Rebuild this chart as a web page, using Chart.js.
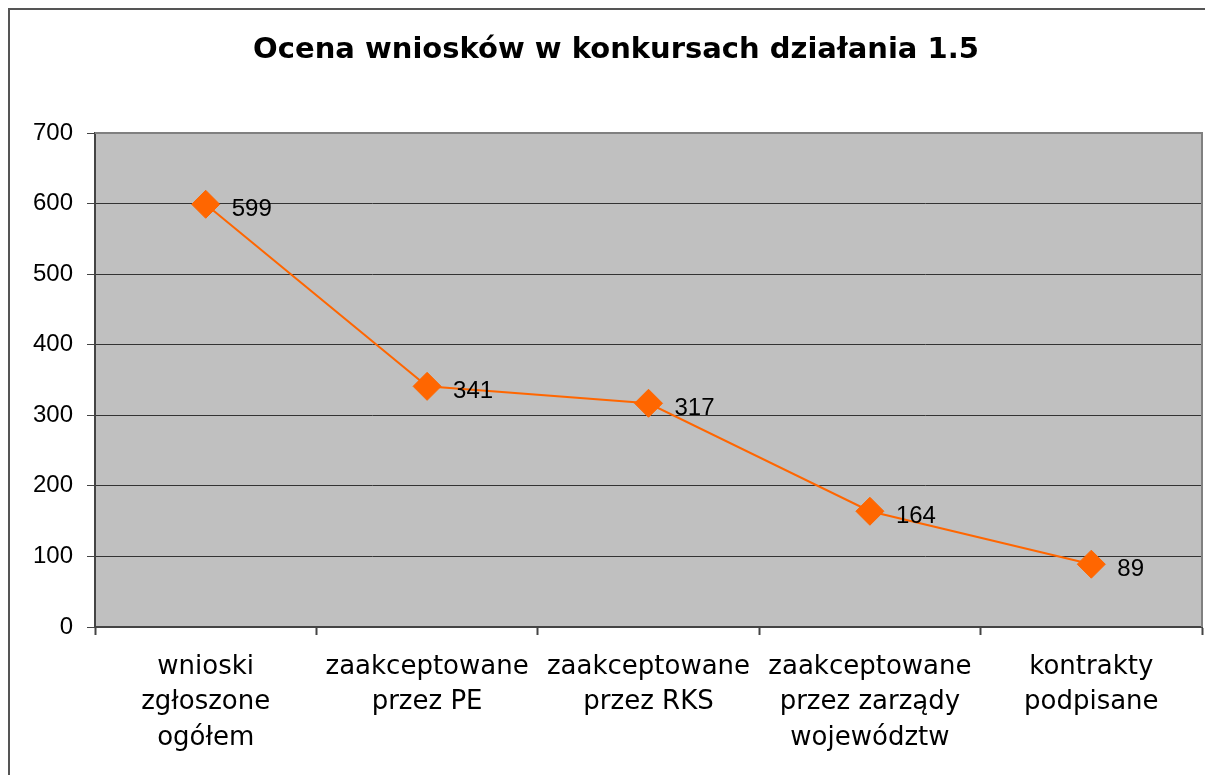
<!DOCTYPE html>
<html>
<head>
<meta charset="utf-8">
<script src="https://cdn.jsdelivr.net/npm/chart.js@4/dist/chart.umd.min.js"></script>
<style>
  html, body { margin: 0; padding: 0; background: #fff; overflow: hidden; }
  canvas { display: block; }
</style>
</head>
<body>
<canvas id="chart" width="1205" height="775"></canvas>
<script>
// Categories (x axis, multi-line)
const categories = [
    ['wnioski', 'zgłoszone', 'ogółem'],
    ['zaakceptowane', 'przez PE'],
    ['zaakceptowane', 'przez RKS'],
    ['zaakceptowane', 'przez zarządy', 'województw'],
    ['kontrakty', 'podpisane']
];

// Series values
const values = [599, 341, 317, 164, 89];

// Y axis range
const yMin = 0;
const yMax = 700;
const yStep = 100;

const titleText = 'Ocena wniosków w konkursach działania 1.5';
const orange = '#ff6600';

// Frame, grey plot area, title and value labels
const backdrop = {
    id: 'backdrop',
    beforeDraw(chart) {
        const ctx = chart.ctx;
        const a = chart.chartArea;
        ctx.save();
        ctx.fillStyle = '#fff';
        ctx.fillRect(0, 0, chart.width, chart.height);
        ctx.strokeStyle = '#555';
        ctx.lineWidth = 2;
        ctx.strokeRect(9, 9, chart.width + 20, chart.height + 20);
        ctx.fillStyle = '#c0c0c0';
        ctx.fillRect(a.left, a.top, a.right - a.left, a.bottom - a.top);
        // title
        ctx.fillStyle = '#000';
        ctx.font = 'bold 29px "DejaVu Sans", Verdana, sans-serif';
        ctx.textAlign = 'center';
        ctx.textBaseline = 'middle';
        ctx.fillText(titleText, 616, 50);
        ctx.restore();
    },
    afterDatasetsDraw(chart) {
        const ctx = chart.ctx;
        const a = chart.chartArea;
        ctx.save();
        // plot border top/right
        ctx.strokeStyle = '#808080';
        ctx.lineWidth = 2;
        ctx.beginPath();
        ctx.moveTo(a.left, a.top);
        ctx.lineTo(a.right, a.top);
        ctx.lineTo(a.right, a.bottom);
        ctx.stroke();
        // value labels
        const meta = chart.getDatasetMeta(0);
        ctx.fillStyle = '#000';
        ctx.font = '24px "Liberation Sans", Arial, sans-serif';
        ctx.textAlign = 'left';
        ctx.textBaseline = 'middle';
        meta.data.forEach((pt, i) => {
            ctx.fillText(String(values[i]), pt.x + 26, pt.y + 5);
        });
        ctx.restore();
    }
};

new Chart(document.getElementById('chart'), {
    type: 'line',
    data: {
        labels: categories,
        datasets: [{
            data: values,
            borderColor: orange,
            borderWidth: 2,
            pointStyle: 'rectRot',
            pointRadius: 14,
            pointHoverRadius: 14,
            pointBackgroundColor: orange,
            pointBorderColor: orange,
            pointBorderWidth: 1,
            tension: 0
        }]
    },
    options: {
        responsive: false,
        animation: false,
        layout: { autoPadding: false, padding: { left: 0, right: 3, top: 133, bottom: 0 } },
        plugins: {
            legend: { display: false },
            tooltip: { enabled: false },
            title: { display: false }
        },
        scales: {
            x: {
                offset: true,
                grid: {
                    offset: true,
                    drawOnChartArea: false,
                    drawTicks: true,
                    tickLength: 8,
                    tickColor: '#444',
                    tickWidth: 2
                },
                border: { display: true, color: '#444', width: 2 },
                ticks: {
                    color: '#000',
                    font: { family: '"DejaVu Sans", Verdana, sans-serif', size: 26, lineHeight: 1.37 },
                    padding: 14,
                    maxRotation: 0,
                    autoSkip: false
                },
                afterFit(scale) {
                    scale.height = 775 - 627;
                    scale.paddingLeft = 0;
                    scale.paddingRight = 0;
                }
            },
            y: {
                min: yMin,
                max: yMax,
                ticks: {
                    stepSize: yStep,
                    color: '#000',
                    font: { family: '"Liberation Sans", Arial, sans-serif', size: 24 },
                    padding: 14
                },
                grid: {
                    color: '#333',
                    lineWidth: 1,
                    drawTicks: true,
                    tickLength: 8,
                    tickColor: '#444'
                },
                border: { display: true, color: '#444', width: 2 },
                afterFit(scale) {
                    scale.width = 95;
                    scale.paddingTop = 0;
                    scale.paddingBottom = 0;
                }
            }
        }
    },
    plugins: [backdrop]
});
</script>
</body>
</html>
